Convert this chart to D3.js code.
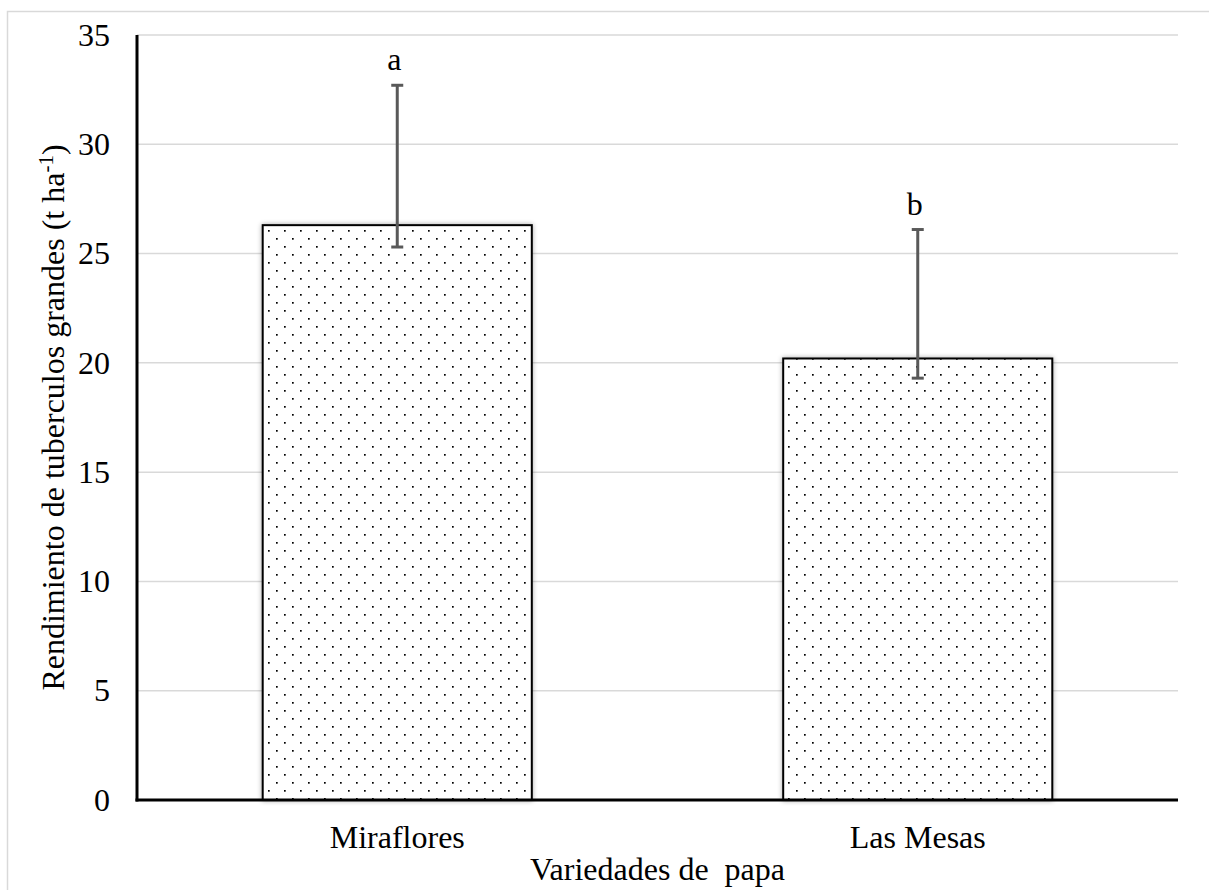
<!DOCTYPE html>
<html>
<head>
<meta charset="utf-8">
<script src="https://cdn.jsdelivr.net/npm/d3@7"></script>
<style>
  html, body { margin: 0; padding: 0; background: #fff; }
  svg { display: block; }
  svg text { font-family: 'Liberation Serif', 'Times New Roman', Tinos, 'DejaVu Serif', serif; }
</style>
</head>
<body>
<svg id="chart" width="1209" height="890" font-size="32"></svg>
<script>
// Yield of large tubers by potato variety
const categories = ["Miraflores", "Las Mesas"];
const means      = [26.3, 20.2];
const errLow     = [25.3, 19.3];
const errHigh    = [32.7, 26.1];
const letters    = ["a", "b"];
const yTicks     = [0, 5, 10, 15, 20, 25, 30, 35];

const FONT = "'Liberation Serif', 'Times New Roman', Tinos, 'DejaVu Serif', serif";
const FS = 32;

const svg = d3.select("#chart");
const W = 1209, H = 890;
const margin = { left: 137, right: 31, top: 35, bottom: 90 };
const plotW = W - margin.left - margin.right;
const plotH = H - margin.top - margin.bottom;

// outer chart frame
svg.append("rect")
  .attr("x", 7.5).attr("y", 11.5)
  .attr("width", W + 10).attr("height", H + 10)
  .attr("fill", "none").attr("stroke", "#d9d9d9").attr("stroke-width", 1.5);

const defs = svg.append("defs");
const pat = defs.append("pattern")
  .attr("id", "dots").attr("patternUnits", "userSpaceOnUse")
  .attr("width", 16).attr("height", 16);
pat.append("rect").attr("width", 16).attr("height", 16).attr("fill", "#fff");
pat.append("rect").attr("x", 3).attr("y", 3).attr("width", 1.7).attr("height", 1.7).attr("fill", "#000");
pat.append("rect").attr("x", 11).attr("y", 11).attr("width", 1.7).attr("height", 1.7).attr("fill", "#000");

const shadow = defs.append("filter").attr("id", "shadow")
  .attr("x", "-10%").attr("y", "-10%").attr("width", "120%").attr("height", "120%");
shadow.append("feGaussianBlur").attr("in", "SourceAlpha").attr("stdDeviation", 2.5).attr("result", "b");
shadow.append("feComponentTransfer").attr("in", "b").attr("result", "s")
  .append("feFuncA").attr("type", "linear").attr("slope", 0.35);
const merge = shadow.append("feMerge");
merge.append("feMergeNode").attr("in", "s");
merge.append("feMergeNode").attr("in", "SourceGraphic");

const g = svg.append("g").attr("transform", `translate(${margin.left},${margin.top})`);

const y = d3.scaleLinear().domain([0, 35]).range([plotH, 0]);
const x = d3.scaleBand().domain(categories).range([0, plotW]).paddingInner(0.483).paddingOuter(0.2415);

// horizontal gridlines
g.append("g").selectAll("line").data(yTicks.filter(d => d > 0)).join("line")
  .attr("x1", 0).attr("x2", plotW)
  .attr("y1", d => y(d)).attr("y2", d => y(d))
  .attr("stroke", "#d9d9d9").attr("stroke-width", 1.5);

// y axis tick labels
const yAxis = g.append("g").call(d3.axisLeft(y).tickValues(yTicks).tickSize(0).tickPadding(27));
yAxis.attr("font-family", null).attr("font-size", FS);
yAxis.select(".domain").remove();
yAxis.selectAll("text").attr("fill", "#000").style("font-family", FONT);

// bars
g.append("g").selectAll("rect").data(categories).join("rect")
  .attr("x", d => x(d))
  .attr("y", (d, i) => y(means[i]))
  .attr("width", x.bandwidth())
  .attr("height", (d, i) => y(0) - y(means[i]))
  .attr("fill", "url(#dots)")
  .attr("stroke", "#000").attr("stroke-width", 2)
  .attr("filter", "url(#shadow)");

// error bars
const eb = g.append("g").attr("stroke", "#595959").attr("stroke-width", 3);
categories.forEach((c, i) => {
  const cx = x(c) + x.bandwidth() / 2;
  eb.append("line").attr("x1", cx).attr("x2", cx).attr("y1", y(errLow[i])).attr("y2", y(errHigh[i]));
  eb.append("line").attr("x1", cx - 6).attr("x2", cx + 6).attr("y1", y(errLow[i])).attr("y2", y(errLow[i]));
  eb.append("line").attr("x1", cx - 6).attr("x2", cx + 6).attr("y1", y(errHigh[i])).attr("y2", y(errHigh[i]));
});

// significance letters
g.append("g").attr("font-size", FS)
  .selectAll("text").data(categories).join("text")
  .attr("x", d => x(d) + x.bandwidth() / 2 - 3)
  .attr("y", (d, i) => y(errHigh[i]) - 15)
  .attr("text-anchor", "middle")
  .attr("fill", "#000")
  .style("font-family", FONT)
  .text((d, i) => letters[i]);

// axis lines
g.append("line").attr("x1", 0).attr("x2", 0).attr("y1", 0).attr("y2", plotH + 1.5)
  .attr("stroke", "#000").attr("stroke-width", 3);
g.append("line").attr("x1", -1.5).attr("x2", plotW).attr("y1", plotH).attr("y2", plotH)
  .attr("stroke", "#000").attr("stroke-width", 3);

// category labels
const xAxis = g.append("g").attr("transform", `translate(0,${plotH})`)
  .call(d3.axisBottom(x).tickSize(0).tickPadding(25));
xAxis.attr("font-family", null).attr("font-size", FS);
xAxis.select(".domain").remove();
xAxis.selectAll("text").attr("fill", "#000").style("font-family", FONT);

// axis titles
g.append("text")
  .attr("x", plotW / 2).attr("y", plotH + 80)
  .attr("text-anchor", "middle")
  .attr("font-size", FS)
  .attr("fill", "#000")
  .style("font-family", FONT)
  .attr("xml:space", "preserve")
  .style("white-space", "pre")
  .text("Variedades de  papa");

const yt = g.append("text")
  .attr("transform", `translate(${64 - margin.left},${plotH / 2}) rotate(-90)`)
  .attr("text-anchor", "middle")
  .attr("font-size", FS)
  .attr("fill", "#000")
  .style("font-family", FONT);
yt.append("tspan").text("Rendimiento de tuberculos grandes (t ha");
yt.append("tspan").attr("dy", "-11").attr("font-size", 21).text("-1");
yt.append("tspan").attr("dy", "11").text(")");
</script>
</body>
</html>
